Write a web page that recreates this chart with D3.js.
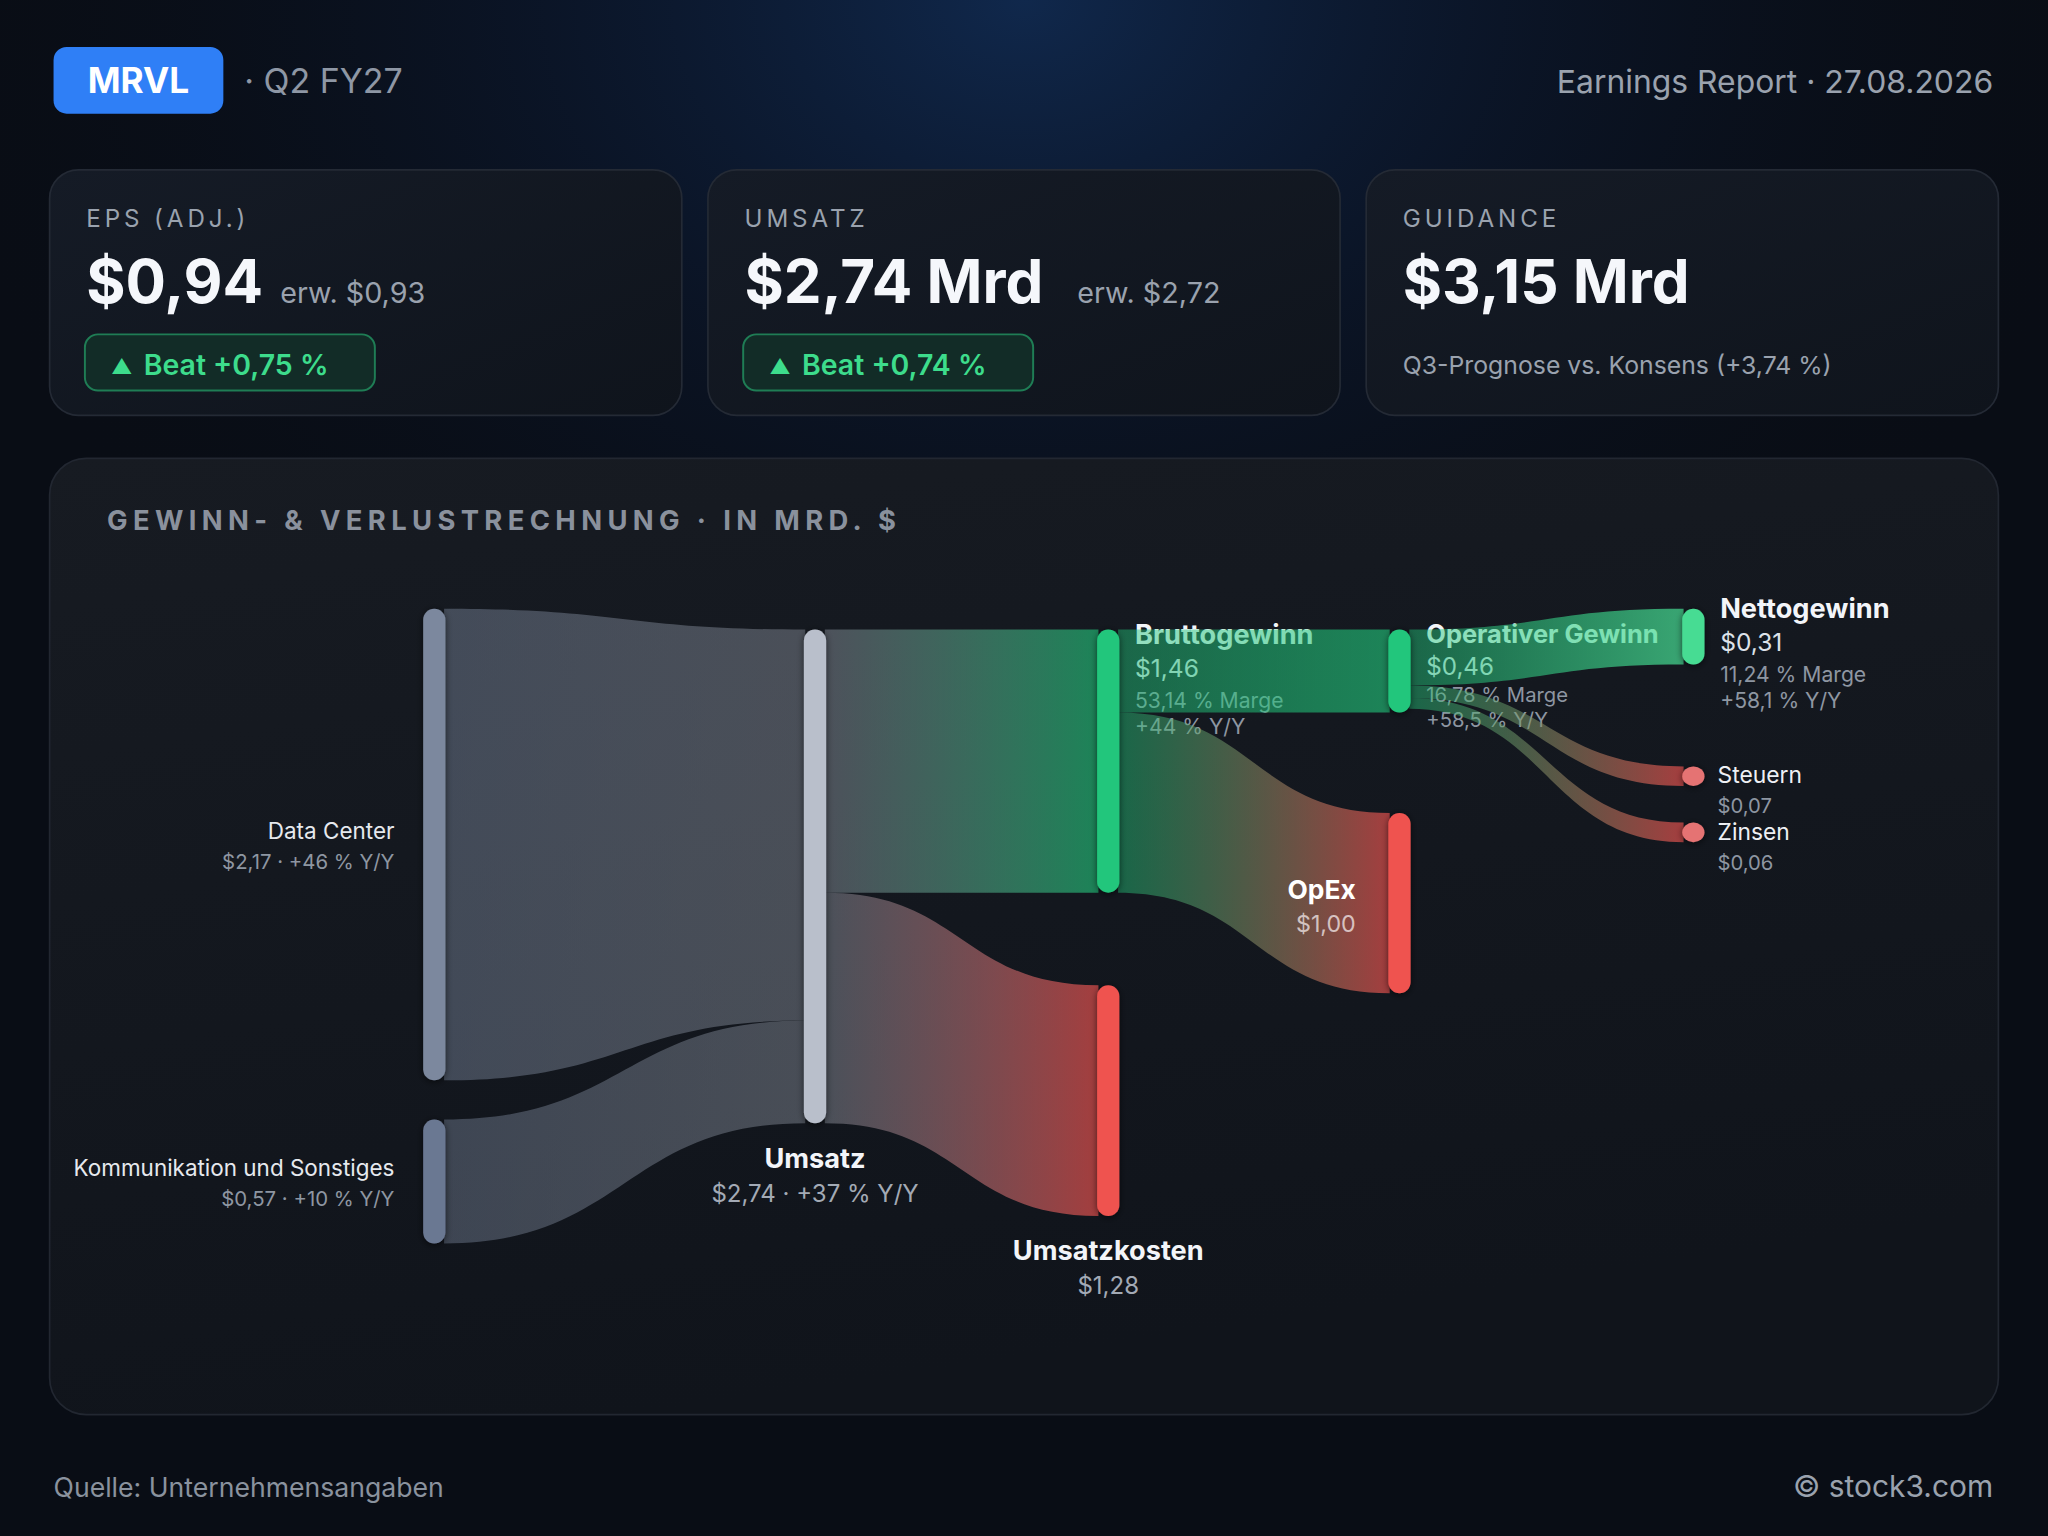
<!DOCTYPE html>
<html>
<head>
<meta charset="utf-8">
<script src="https://cdn.jsdelivr.net/npm/d3@7"></script>
<style>
html, body { margin: 0; padding: 0; background: #090d15; }
svg { display: block; font-family: Inter, "Noto Sans", "DejaVu Sans", sans-serif; }
</style>
</head>
<body>
<svg id="chart"></svg>
<script>
// ---- data ----
const ticker = "MRVL";
const quarter = "Q2 FY27";
const reportDate = "27.08.2026";
const source = "Quelle: Unternehmensangaben";
const credit = "© stock3.com";

const kpiTitles = ["EPS (ADJ.)", "UMSATZ", "GUIDANCE"];
const kpiActual = [0.94, 2.74, 3.15];
const kpiUnit = ["", " Mrd", " Mrd"];
const kpiEstimate = [0.93, 2.72, null];
const kpiBeat = [0.75, 0.74, null];
const guidanceVsConsensus = 3.74;

const nodeNames = ["Data Center", "Kommunikation und Sonstiges", "Umsatz", "Bruttogewinn", "Umsatzkosten",
                   "Operativer Gewinn", "OpEx", "Nettogewinn", "Steuern", "Zinsen"];
const nodeValues = [2.17, 0.57, 2.74, 1.46, 1.28, 0.46, 1.00, 0.31, 0.07, 0.06];
const nodeColumns = [0, 0, 1, 2, 2, 3, 3, 4, 4, 4];
const nodeYoY = [46, 10, 37, 44, null, 58.5, null, 58.1, null, null];
const nodeMargin = [null, null, null, 53.14, null, 16.78, null, 11.24, null, null];
const nodeTone = ["slate", "slate2", "neutral", "gain", "cost", "gain", "cost", "net", "tax", "tax"];

const linkSource = [0, 1, 2, 2, 3, 3, 5, 5, 5];
const linkTarget = [2, 2, 3, 4, 5, 6, 7, 8, 9];
const linkValue = [2.17, 0.57, 1.46, 1.28, 0.46, 1.00, 0.31, 0.07, 0.06];

// ---- look ----
const palette = {
  slate:   { node: "#7b889e", flow: "#7b889e", aOut: 0.45, aIn: 0.45 },
  slate2:  { node: "#6b7892", flow: "#7b889e", aOut: 0.42, aIn: 0.42 },
  neutral: { node: "#b9bfcb", flow: "#9aa1ad", aOut: 0.42, aIn: 0.40 },
  gain:    { node: "#22c67b", flow: "#22c67b", aOut: 0.45, aIn: 0.62 },
  cost:    { node: "#ef5350", flow: "#ef5350", aOut: 0.45, aIn: 0.66 },
  net:     { node: "#47dc93", flow: "#47dc93", aOut: 0.5, aIn: 0.72 },
  tax:     { node: "#e57373", flow: "#ef5350", aOut: 0.45, aIn: 0.66 }
};
const labelPlace = ["left", "left", "below", "right", "below", "rightTight", "inside", "right", "small", "small"];
const colTop = [466, 482, 482, 482, 466];
const nodeGap = [0, 30, 0, 0, 71, 0, 77, 0, 78, 28];
const nodeW = 17, minNodeH = 15;

const W = 1568, H = 1176;
const de = d3.formatLocale({ decimal: ",", thousands: ".", grouping: [3], currency: ["$", ""] });
const money = de.format("$.2f");
const signed = de.format("+");
const signed2 = de.format("+.2f");
const pct2 = de.format(".2f");

const svg = d3.select("#chart")
  .attr("width", 2048).attr("height", 1536)
  .attr("viewBox", `0 0 ${W} ${H}`);
const defs = svg.append("defs");

// background + glow
const glow = defs.append("radialGradient").attr("id", "glow")
  .attr("cx", 0.5).attr("cy", 0).attr("r", 0.55);
glow.append("stop").attr("offset", 0).attr("stop-color", "#10284c").attr("stop-opacity", 1);
glow.append("stop").attr("offset", 0.45).attr("stop-color", "#0c1a33").attr("stop-opacity", 0.55);
glow.append("stop").attr("offset", 1).attr("stop-color", "#090d15").attr("stop-opacity", 0);
svg.append("rect").attr("width", W).attr("height", H).attr("fill", "#090d15");
svg.append("rect").attr("width", W).attr("height", H).attr("fill", "url(#glow)");

const cardFill = defs.append("linearGradient").attr("id", "cardFill")
  .attr("x1", 0).attr("y1", 0).attr("x2", 1).attr("y2", 1);
cardFill.append("stop").attr("offset", 0).attr("stop-color", "#151b26");
cardFill.append("stop").attr("offset", 1).attr("stop-color", "#0f141c");
const panelFill = defs.append("linearGradient").attr("id", "panelFill")
  .attr("x1", 0).attr("y1", 0).attr("x2", 0.3).attr("y2", 1);
panelFill.append("stop").attr("offset", 0).attr("stop-color", "#171b22");
panelFill.append("stop").attr("offset", 1).attr("stop-color", "#10141b");

const shadow = defs.append("filter").attr("id", "shadow")
  .attr("x", -1).attr("y", -0.5).attr("width", 3).attr("height", 2);
shadow.append("feDropShadow").attr("dx", 0).attr("dy", 1).attr("stdDeviation", 3)
  .attr("flood-color", "#000").attr("flood-opacity", 0.6);

// ---- header ----
svg.append("rect").attr("x", 41).attr("y", 36).attr("width", 130).attr("height", 51)
  .attr("rx", 10).attr("fill", "#2f7ff6");
svg.append("text").attr("x", 106).attr("y", 71).attr("text-anchor", "middle")
  .attr("font-size", 27).attr("font-weight", 700).attr("fill", "#fff").text(ticker);
svg.append("text").attr("x", 187).attr("y", 71)
  .attr("font-size", 26).attr("fill", "#8e97a5").text("· " + quarter);
svg.append("text").attr("x", 1526).attr("y", 71).attr("text-anchor", "end")
  .attr("font-size", 24.4).attr("fill", "#9aa2ae").text("Earnings Report · " + reportDate);

// ---- KPI cards ----
const cardX = d3.scaleBand().domain(d3.range(3)).range([38, 1530]).paddingInner(20 / 504);
const kpiGap = [13, 26, 0];
kpiTitles.forEach((title, i) => {
  const x = cardX(i);
  const g = svg.append("g");
  g.append("rect").attr("x", x).attr("y", 130).attr("width", cardX.bandwidth()).attr("height", 188)
    .attr("rx", 22).attr("fill", "url(#cardFill)").attr("stroke", "#242a35").attr("stroke-width", 1.3);
  g.append("text").attr("x", x + 28).attr("y", 174)
    .attr("font-size", 18.5).attr("letter-spacing", 3).attr("fill", "#9aa2ae").text(title);
  const big = g.append("text").attr("x", x + 28).attr("y", 232)
    .attr("font-size", 46).attr("font-weight", 700).attr("fill", "#f5f7fb")
    .text(money(kpiActual[i]) + kpiUnit[i]);
  if (kpiEstimate[i] != null) {
    const bw = big.node().getComputedTextLength();
    g.append("text").attr("x", x + 28 + bw + kpiGap[i]).attr("y", 232)
      .attr("font-size", 22).attr("fill", "#9aa2ae").text("erw. " + money(kpiEstimate[i]));
  }
  if (kpiBeat[i] != null) {
    g.append("rect").attr("x", x + 27).attr("y", 256).attr("width", 222).attr("height", 43)
      .attr("rx", 10).attr("fill", "#122c27").attr("stroke", "#1f7d55").attr("stroke-width", 1.5);
    const bt = g.append("text").attr("x", x + 47).attr("y", 286)
      .attr("font-size", 21.8).attr("font-weight", 600).attr("fill", "#3ddc8c");
    bt.append("tspan").attr("font-size", 16).text("▲");
    bt.append("tspan").attr("x", x + 72).attr("dy", 1).text("Beat " + signed2(kpiBeat[i]) + " %");
  } else {
    g.append("text").attr("x", x + 28).attr("y", 286)
      .attr("font-size", 19).attr("fill", "#9aa2ae")
      .text("Q3-Prognose vs. Konsens (" + signed2(guidanceVsConsensus) + " %)");
  }
});

// ---- panel ----
svg.append("rect").attr("x", 38).attr("y", 351).attr("width", 1492).attr("height", 732)
  .attr("rx", 28).attr("fill", "url(#panelFill)").attr("stroke", "#222731").attr("stroke-width", 1.3);
svg.append("text").attr("x", 82).attr("y", 406)
  .attr("font-size", 21).attr("font-weight", 700).attr("letter-spacing", 4.1).attr("fill", "#8a919d")
  .text("GEWINN- & VERLUSTRECHNUNG · IN MRD. $");

// ---- sankey layout ----
const colX = d3.scaleOrdinal().domain([0, 1, 2, 3, 4]).range([324, 615.5, 840, 1063, 1288]);
const flowScale = d3.scaleLinear().domain([0, d3.max(nodeValues)]).range([0, 378]);
const sourceScale = d3.scaleLinear()
  .domain([0, d3.sum(nodeValues.filter((v, i) => nodeColumns[i] === 0))]).range([0, 456]);

const nodes = nodeNames.map((name, i) => ({ i, name, value: nodeValues[i], col: nodeColumns[i], tone: palette[nodeTone[i]] }));
const cursor = {};
nodes.forEach((n, i) => {
  const s = n.col === 0 ? sourceScale : flowScale;
  n.h = Math.max(minNodeH, s(n.value));
  n.y0 = (cursor[n.col] ?? colTop[n.col]) + nodeGap[i];
  n.y1 = n.y0 + n.h;
  cursor[n.col] = n.y1;
  n.x0 = colX(n.col);
  n.x1 = n.x0 + nodeW;
  n.outY = n.y0;
  n.inY = n.y0;
});
const links = linkSource.map((s, i) => {
  const src = nodes[s], tgt = nodes[linkTarget[i]], v = linkValue[i];
  const sh = v / src.value * src.h, th = v / tgt.value * tgt.h;
  const l = { i, src, tgt, v, sy0: src.outY, sy1: src.outY + sh, ty0: tgt.inY, ty1: tgt.inY + th };
  src.outY += sh;
  tgt.inY += th;
  return l;
});
function ribbon(l) {
  const x0 = l.src.x1 - 1, x1 = l.tgt.x0 + 1, xm = (x0 + x1) / 2;
  return `M${x0},${l.sy0}C${xm},${l.sy0} ${xm},${l.ty0} ${x1},${l.ty0}` +
         `L${x1},${l.ty1}C${xm},${l.ty1} ${xm},${l.sy1} ${x0},${l.sy1}Z`;
}

// ---- labels ----
const styles = {
  left:   [{ size: 17.2, weight: 400, fill: "#e6e9ee", dy: 0 }, { size: 15.6, weight: 400, fill: "#8e96a2", dy: 23 }],
  below:  [{ size: 20.8, weight: 700, fill: "#f3f5f9", dy: 0 }, { size: 18.4, weight: 400, fill: "#a3aab5", dy: 26 }],
  right:  [{ size: 20.8, weight: 700, fill: "#f3f5f9", dy: 0 }, { size: 18.8, weight: 400, fill: "#dde2e9", dy: 25 },
           { size: 16.2, weight: 400, fill: "#8e96a2", dy: 49 }, { size: 16.2, weight: 400, fill: "#8e96a2", dy: 69 }],
  rightTight: [{ size: 19.5, weight: 700, fill: "#f3f5f9", dy: 0 }, { size: 18.5, weight: 400, fill: "#dde2e9", dy: 24 },
           { size: 15.5, weight: 400, fill: "#8e96a2", dy: 45 }, { size: 15.5, weight: 400, fill: "#8e96a2", dy: 64 }],
  small:  [{ size: 17.5, weight: 400, fill: "#eef0f4", dy: 0 }, { size: 15.5, weight: 400, fill: "#8e96a2", dy: 23 }],
  inside: [{ size: 20.2, weight: 700, fill: "#ffffff", dy: 0 }, { size: 17.8, weight: 400, fill: "rgba(238,228,228,0.78)", dy: 25 }]
};
function labelSpec(n) {
  const place = labelPlace[n.i];
  const cy = (n.y0 + n.y1) / 2;
  const yoy = nodeYoY[n.i] != null ? signed(nodeYoY[n.i]) + " % Y/Y" : null;
  if (place === "left")
    return { x: n.x0 - 22, y: cy - 4, anchor: "end", lines: [n.name, money(n.value) + (yoy ? " · " + yoy : "")] };
  if (place === "below")
    return { x: (n.x0 + n.x1) / 2, y: n.y1 + 34, anchor: "middle", lines: [n.name, money(n.value) + (yoy ? " · " + yoy : "")] };
  if (place === "inside")
    return { x: n.x0 - 25, y: cy - 3, anchor: "end", lines: [n.name, money(n.value)] };
  if (place === "small")
    return { x: n.x1 + 10, y: cy + 5.5, anchor: "start", lines: [n.name, money(n.value)] };
  return { x: n.x1 + 12, y: n.y0 + Math.min(11, n.h / 6), anchor: "start",
           lines: [n.name, money(n.value), pct2(nodeMargin[n.i]) + " % Marge", yoy] };
}
function drawLabel(g, n) {
  const spec = labelSpec(n);
  const st = styles[labelPlace[n.i]];
  spec.lines.forEach((t, k) => {
    if (t == null) return;
    g.append("text").attr("x", spec.x).attr("y", spec.y + st[k].dy)
      .attr("text-anchor", spec.anchor)
      .attr("font-size", st[k].size).attr("font-weight", st[k].weight).attr("fill", st[k].fill)
      .text(t);
  });
}

// labels of the middle columns sit beneath the translucent ribbons
const isUnder = n => labelPlace[n.i].startsWith("right") && n.col < 4;
const under = svg.append("g");
nodes.filter(isUnder).forEach(n => drawLabel(under, n));

// ---- links ----
links.forEach(l => {
  const gr = defs.append("linearGradient").attr("id", "lg" + l.i)
    .attr("gradientUnits", "userSpaceOnUse")
    .attr("x1", l.src.x1).attr("y1", 0).attr("x2", l.tgt.x0).attr("y2", 0);
  gr.append("stop").attr("offset", 0).attr("stop-color", l.src.tone.flow).attr("stop-opacity", l.src.tone.aOut);
  gr.append("stop").attr("offset", 1).attr("stop-color", l.tgt.tone.flow).attr("stop-opacity", l.tgt.tone.aIn);
});
svg.append("g").selectAll("path").data(links).join("path")
  .attr("d", ribbon)
  .attr("fill", l => `url(#lg${l.i})`);

// ---- nodes ----
svg.append("g").selectAll("rect").data(nodes).join("rect")
  .attr("x", n => n.x0).attr("y", n => n.y0)
  .attr("width", nodeW).attr("height", n => n.h)
  .attr("rx", nodeW / 2)
  .attr("fill", n => n.tone.node)
  .attr("filter", "url(#shadow)");

const over = svg.append("g");
nodes.filter(n => !isUnder(n)).forEach(n => drawLabel(over, n));

// ---- footer ----
svg.append("text").attr("x", 41).attr("y", 1146)
  .attr("font-size", 20.4).attr("fill", "#8a929e").text(source);
svg.append("text").attr("x", 1526).attr("y", 1146).attr("text-anchor", "end")
  .attr("font-size", 22.9).attr("fill", "#9aa2ae").text(credit);
</script>
</body>
</html>
